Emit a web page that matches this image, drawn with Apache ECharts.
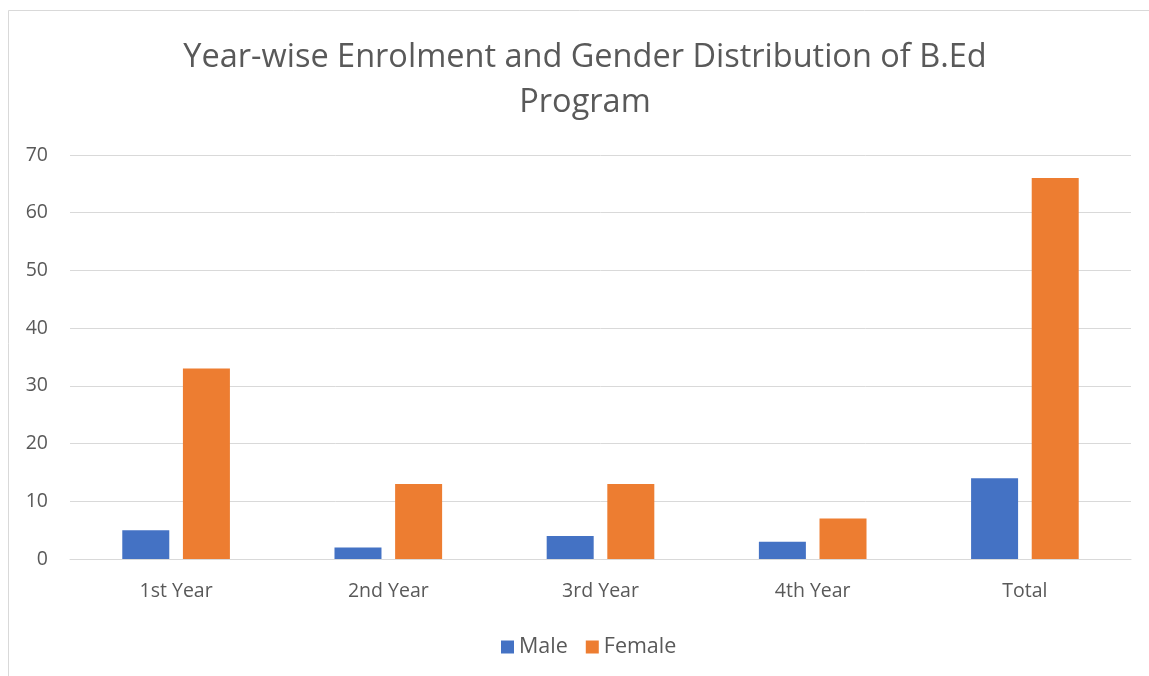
<!DOCTYPE html>
<html>
<head>
<meta charset="utf-8">
<script src="https://cdn.jsdelivr.net/npm/echarts@6/dist/echarts.min.js"></script>
<style>
html,body{margin:0;padding:0;background:#fff;}
#c{width:1149px;height:676px;}
</style>
</head>
<body>
<div id="c"></div>
<script>
const categories = ['1st Year', '2nd Year', '3rd Year', '4th Year', 'Total'];
const maleValues = [5, 2, 4, 3, 14];
const femaleValues = [33, 13, 13, 7, 66];
const yTicks = { min: 0, max: 70, interval: 10 };
const titleText = 'Year-wise Enrolment and Gender Distribution of B.Ed\nProgram';

const font = '"Open Sans", sans-serif';
const chart = echarts.init(document.getElementById('c'), null, { renderer: 'canvas' });
chart.setOption({
  animation: false,
  backgroundColor: '#ffffff',
  graphic: [{
    type: 'rect', silent: true,
    shape: { x: 8.5, y: 10.5, width: 1300, height: 800 },
    style: { fill: 'none', stroke: '#d9d9d9', lineWidth: 1 }
  }],
  title: {
    text: titleText,
    left: 580, top: 30, textAlign: 'center',
    textStyle: { fontFamily: font, fontSize: 32.5, fontWeight: 'normal', color: '#595959', lineHeight: 45 }
  },
  legend: {
    data: ['Male', 'Female'],
    left: 496, top: 631,
    itemWidth: 13, itemHeight: 13, itemGap: 18,
    icon: 'rect',
    textStyle: { fontFamily: font, fontSize: 21.5, color: '#595959' }
  },
  grid: { left: 70, right: 18, top: 155, bottom: 117, containLabel: false },
  xAxis: {
    type: 'category', data: categories,
    axisLine: { show: true, lineStyle: { color: '#d9d9d9', width: 1 } },
    axisTick: { show: false },
    axisLabel: { fontFamily: font, fontSize: 19.5, color: '#595959', margin: 22 }
  },
  yAxis: {
    type: 'value', min: yTicks.min, max: yTicks.max, interval: yTicks.interval,
    axisLine: { show: false }, axisTick: { show: false },
    splitLine: { lineStyle: { color: '#d9d9d9', width: 1 } },
    axisLabel: { fontFamily: font, fontSize: 19.5, color: '#595959', margin: 22 }
  },
  series: [
    { name: 'Male', type: 'bar', data: maleValues, barWidth: 47, barGap: '29%',
      itemStyle: { color: '#4472c4' } },
    { name: 'Female', type: 'bar', data: femaleValues, barWidth: 47,
      itemStyle: { color: '#ed7d31' } }
  ]
});
</script>
</body>
</html>
